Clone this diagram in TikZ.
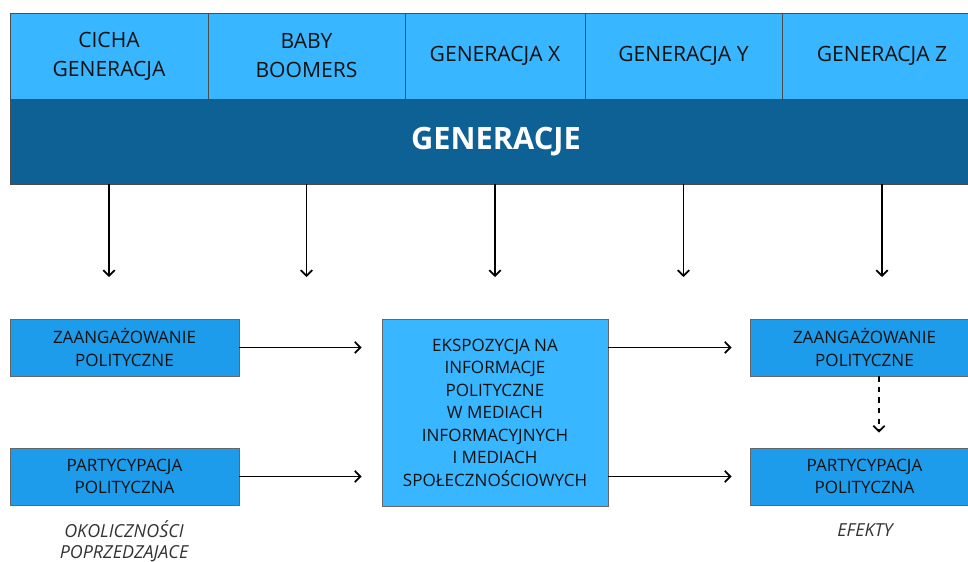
\documentclass[tikz,border=0pt]{standalone}
\usepackage{fontspec}
\setmainfont{Open Sans}
\usetikzlibrary{positioning,arrows.meta}

\definecolor{genlight}{HTML}{38B6FF}
\definecolor{genmid}{HTML}{1C9CEA}
\definecolor{gendark}{HTML}{0E6194}
\definecolor{txtdark}{HTML}{111111}

\begin{document}
\begin{tikzpicture}[
    gencell/.style={draw=black!70, fill=genlight, minimum height=1.72cm, inner sep=0pt, align=center, text=txtdark, font=\fontsize{12}{16.5}\selectfont},
    factor/.style={draw=black!60, fill=genmid, minimum width=4.58cm, minimum height=1.14cm, inner sep=0pt, align=center, text=txtdark, font=\fontsize{9.7}{12.7}\selectfont},
    caption/.style={text=black!80, align=center, font=\fontsize{10.2}{12}\selectfont\itshape},
    flow/.style={line width=1pt, -{Straight Barb[length=3.2pt,width=6.5pt]}, black}
]
    \useasboundingbox (0,0) rectangle (19.36,-11.24);
    \clip (0,0) rectangle (19.36,-11.24);

    % generacje
    \node[gencell, minimum width=3.96cm] (c1) at (2.18,-1.12) {CICHA\\GENERACJA};
    \node[gencell, minimum width=3.94cm] (c2) at (6.13,-1.12) {BABY\\BOOMERS};
    \node[gencell, minimum width=3.60cm] (c3) at (9.90,-1.12) {GENERACJA X};
    \node[gencell, minimum width=3.94cm] (c4) at (13.67,-1.12) {GENERACJA Y};
    \node[gencell, minimum width=4.00cm] (c5) at (17.64,-1.12) {GENERACJA Z};
    \node[draw=black!70, fill=gendark, minimum width=19.44cm, minimum height=1.70cm, text=white,
        font=\fontsize{17.5}{20}\selectfont\bfseries] (band) at (9.92,-2.83) {GENERACJE};

    \coordinate (stop) at (0,-5.54);
    \foreach \c in {c1,c2,c3,c4,c5}
        \draw[flow] (\c |- band.south) -- (\c |- stop);

    % okolicznosci
    \node[factor] (zp1) at (2.49,-6.95) {ZAANGAŻOWANIE\\POLITYCZNE};
    \node[factor] (pp1) at (2.49,-9.53) {PARTYCYPACJA\\POLITYCZNA};

    % ekspozycja
    \node[draw=black!60, fill=genlight, minimum width=4.52cm, minimum height=3.74cm, inner sep=0pt, align=center,
        text=txtdark, font=\fontsize{9.7}{12.8}\selectfont] (ekspo) at (9.90,-8.25)
        {EKSPOZYCJA NA\\INFORMACJE\\POLITYCZNE\\W MEDIACH\\INFORMACYJNYCH\\I MEDIACH\\SPOŁECZNOŚCIOWYCH};

    % efekty
    \node[factor] (zp2) at (17.29,-6.95) {ZAANGAŻOWANIE\\POLITYCZNE};
    \node[factor] (pp2) at (17.29,-9.53) {PARTYCYPACJA\\POLITYCZNA};

    \draw[flow, shorten >=0.4cm] (zp1.east) -- (zp1.east -| ekspo.west);
    \draw[flow, shorten >=0.4cm] (pp1.east) -- (pp1.east -| ekspo.west);
    \draw[flow, shorten >=0.36cm] (ekspo.east |- zp2.west) -- (zp2.west);
    \draw[flow, shorten >=0.36cm] (ekspo.east |- pp2.west) -- (pp2.west);
    \draw[flow, dashed, shorten >=0.3cm] ([xshift=0.29cm]zp2.south) -- ([xshift=0.29cm]pp2.north);

    \node[caption] (prev) at (2.48,-10.83) {OKOLICZNOŚCI\\POPRZEDZAJACE};
    \node[caption] (eff) at (17.30,-10.60) {EFEKTY};
\end{tikzpicture}
\end{document}
